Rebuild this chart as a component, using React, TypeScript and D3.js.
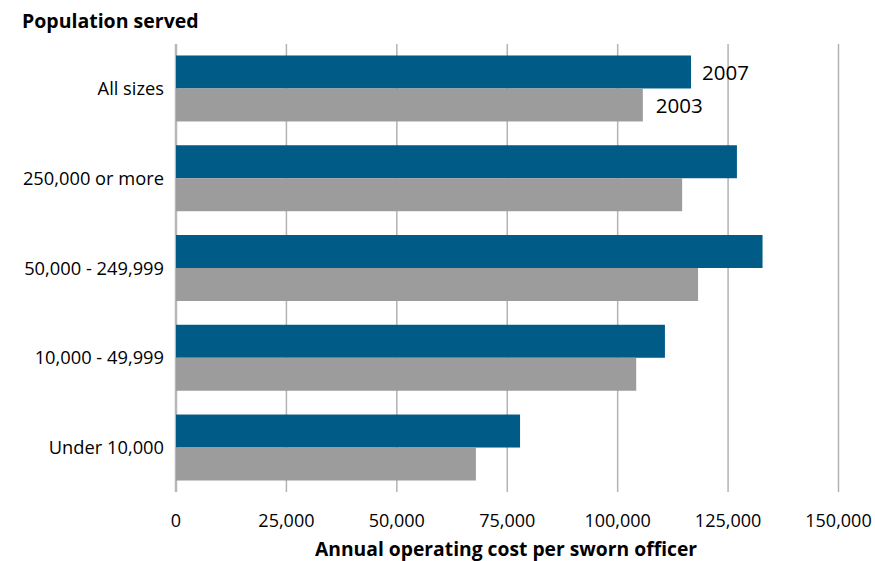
import React from "react";
import * as d3 from "d3";

const categories = ["All sizes", "250,000 or more", "50,000 - 249,999", "10,000 - 49,999", "Under 10,000"];
const values2007 = [116600, 127000, 132800, 110700, 77900];
const values2003 = [105700, 114600, 118200, 104200, 67900];
const xTicks = [0, 25000, 50000, 75000, 100000, 125000, 150000];
const seriesNames = ["2007", "2003"];

const W = 875;
const H = 561;
const left = 176;
const right = 838.5;
const top = 44;
const bottom = 492;
const FONT = "'Open Sans', sans-serif";

export default function App() {
  const x = d3.scaleLinear().domain([0, 150000]).range([left, right]);
  const y = d3
    .scaleBand<string>()
    .domain(categories)
    .range([top, bottom])
    .paddingInner(0.265)
    .paddingOuter(0.128);
  const bw = y.bandwidth() / 2;
  const fmt = d3.format(",");

  return (
    <svg width={W} height={H} style={{ position: "absolute", left: 0, top: 0, background: "#fff" }}>
      <text x={22} y={28} fontFamily={FONT} fontWeight={700} fontSize={19.5} fill="#000">
        Population served
      </text>
      {xTicks.map((t) => (
        <line
          key={"g" + t}
          x1={x(t)}
          x2={x(t)}
          y1={top}
          y2={bottom}
          stroke={t === 0 ? "#b8b8b8" : "#b3b3b3"}
          strokeWidth={t === 0 ? 2.5 : 1.5}
        />
      ))}
      {categories.map((c, i) => {
        const y0 = y(c)!;
        return (
          <g key={c}>
            <rect x={x(0)} y={y0} width={x(values2007[i]) - x(0)} height={bw} fill="#005b87" />
            <rect x={x(0)} y={y0 + bw} width={x(values2003[i]) - x(0)} height={bw} fill="#9c9c9c" />
            <text
              x={164}
              y={y0 + bw + 6.5}
              textAnchor="end"
              fontFamily={FONT}
              fontSize={18.3}
              fill="#000"
            >
              {c}
            </text>
          </g>
        );
      })}
      <text
        x={x(values2007[0]) + 11}
        y={y(categories[0])! + bw / 2 + 8}
        fontFamily={FONT}
        fontSize={20.5}
        fill="#000"
      >
        {seriesNames[0]}
      </text>
      <text
        x={x(values2003[0]) + 13}
        y={y(categories[0])! + bw * 1.5 + 8}
        fontFamily={FONT}
        fontSize={20.5}
        fill="#000"
      >
        {seriesNames[1]}
      </text>
      {xTicks.map((t) => (
        <text
          key={"t" + t}
          x={x(t)}
          y={527}
          textAnchor="middle"
          fontFamily={FONT}
          fontSize={18}
          fill="#000"
        >
          {fmt(t)}
        </text>
      ))}
      <text
        x={506}
        y={556}
        textAnchor="middle"
        fontFamily={FONT}
        fontWeight={700}
        fontSize={19.3}
        fill="#000"
      >
        Annual operating cost per sworn officer
      </text>
    </svg>
  );
}
